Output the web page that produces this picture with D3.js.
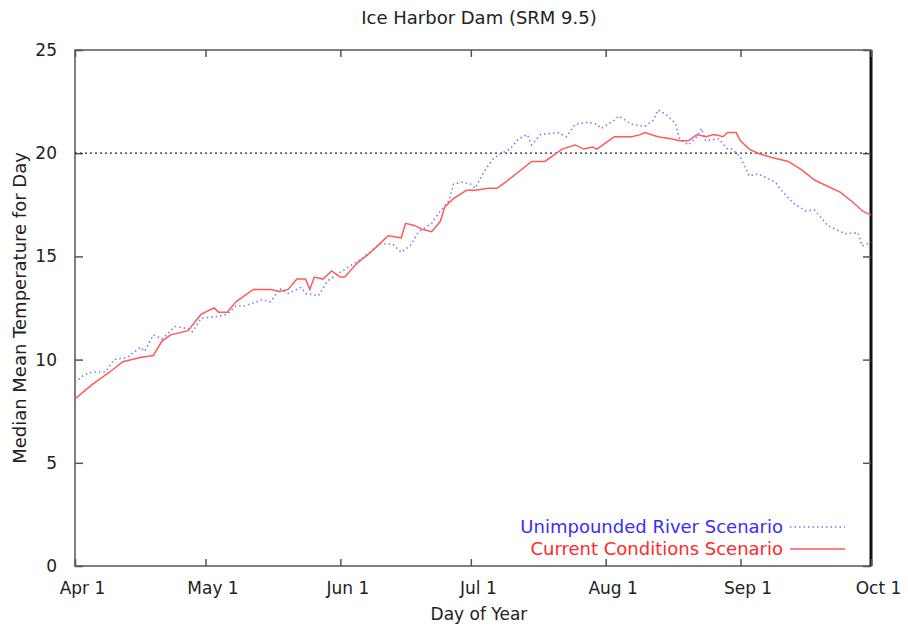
<!DOCTYPE html>
<html>
<head>
<meta charset="utf-8">
<script src="https://cdn.jsdelivr.net/npm/d3@7"></script>
<style>
  body { margin: 0; background: #fff; }
  text { font-family: "DejaVu Sans", Verdana, sans-serif; }
</style>
</head>
<body>
<svg id="chart" width="908" height="627"></svg>
<script>
// days after Apr 1 and median mean temperature (deg C)
const unimpoundedDays = [0, 2, 4, 7, 8, 9, 12, 15, 16, 18, 20, 23, 26, 27, 29, 33, 35, 37, 39, 43, 45, 47, 49, 52, 53, 56, 58, 60, 63, 66, 70, 73, 75, 77, 79, 82, 84, 86, 87, 89, 91, 92, 94, 96, 98, 100, 102, 104, 105, 107, 111, 113, 115, 118, 120, 121, 124, 125, 128, 131, 133, 134, 136, 138, 139, 141, 143, 144, 145, 148, 150, 151, 153, 155, 157, 161, 162, 165, 168, 170, 173, 175, 177, 180, 181, 183];
const unimpoundedTemps = [8.9, 9.25, 9.4, 9.4, 9.7, 10.0, 10.1, 10.6, 10.4, 11.2, 11.0, 11.6, 11.5, 11.35, 12.0, 12.1, 12.2, 12.6, 12.6, 12.9, 12.8, 13.45, 13.2, 13.5, 13.2, 13.1, 13.8, 14.1, 14.5, 14.9, 15.6, 15.6, 15.2, 15.5, 16.2, 16.6, 17.2, 17.7, 18.5, 18.6, 18.5, 18.3, 19.1, 19.7, 20.0, 20.2, 20.7, 20.9, 20.4, 20.9, 21.0, 20.8, 21.4, 21.5, 21.4, 21.2, 21.6, 21.8, 21.4, 21.3, 21.6, 22.1, 21.85, 21.45, 20.7, 20.4, 20.8, 21.2, 20.6, 20.7, 20.2, 20.2, 19.8, 18.9, 19.0, 18.6, 18.3, 17.6, 17.2, 17.25, 16.5, 16.3, 16.1, 16.15, 15.5, 15.7];

const currentDays = [0, 4, 8, 11, 15, 18, 20, 22, 26, 29, 32, 33, 35, 37, 39, 41, 45, 47, 49, 51, 53, 54, 55, 57, 59, 61, 62, 65, 68, 71, 72, 75, 76, 78, 80, 82, 84, 85, 87, 90, 92, 95, 97, 99, 102, 105, 108, 110, 112, 115, 117, 119, 120, 122, 124, 126, 128, 130, 131, 134, 137, 139, 141, 143, 145, 147, 149, 150, 152, 153, 155, 157, 160, 164, 167, 170, 173, 176, 179, 181, 183];
const currentTemps = [8.1, 8.8, 9.4, 9.9, 10.1, 10.2, 10.9, 11.2, 11.4, 12.2, 12.5, 12.3, 12.3, 12.8, 13.1, 13.4, 13.4, 13.3, 13.4, 13.9, 13.9, 13.4, 14.0, 13.9, 14.3, 14.0, 14.0, 14.7, 15.2, 15.8, 16.0, 15.9, 16.6, 16.5, 16.3, 16.2, 16.7, 17.4, 17.8, 18.2, 18.2, 18.3, 18.3, 18.6, 19.1, 19.6, 19.6, 19.9, 20.2, 20.4, 20.2, 20.3, 20.2, 20.5, 20.8, 20.8, 20.8, 20.9, 21.0, 20.8, 20.7, 20.6, 20.6, 20.9, 20.8, 20.9, 20.8, 21.0, 21.0, 20.6, 20.2, 20.0, 19.8, 19.6, 19.2, 18.7, 18.4, 18.1, 17.6, 17.2, 17.0];

const yTicks = [0, 5, 10, 15, 20, 25];
const threshold = 20;
const seriesNames = ['Unimpounded River Scenario', 'Current Conditions Scenario'];

const svg = d3.select('svg#chart');
const margin = {top: 50, right: 37, bottom: 61, left: 75};
const width = +svg.attr('width');
const height = +svg.attr('height');
const innerWidth = width - margin.left - margin.right;
const innerHeight = height - margin.top - margin.bottom;

const start = new Date(Date.UTC(2001, 3, 1));
const toDate = d => d3.utcDay.offset(start, d);

const xScale = d3.scaleUtc()
    .domain([start, new Date(Date.UTC(2001, 9, 1))])
    .range([0, innerWidth]);
const yScale = d3.scaleLinear()
    .domain([0, 25])
    .range([innerHeight, 0]);

const g = svg.append('g')
    .attr('transform', `translate(${margin.left}, ${margin.top})`);

//frame
g.append('rect')
    .attr('width', innerWidth).attr('height', innerHeight)
    .attr('fill', 'none').attr('stroke', '#555').attr('stroke-width', 1.5);
g.append('line')
    .attr('x1', innerWidth).attr('x2', innerWidth)
    .attr('y1', 0).attr('y2', innerHeight)
    .attr('stroke', '#111').attr('stroke-width', 3);

//axes, ticks pointing inward on all four sides
const monthTicks = d3.utcMonth.range(start, new Date(Date.UTC(2001, 9, 2)));
const xAxis = d3.axisBottom(xScale)
    .tickValues(monthTicks)
    .tickFormat(d3.utcFormat('%b %-d'))
    .tickSize(-7).tickPadding(16);
const xTop = d3.axisTop(xScale).tickValues(monthTicks).tickSize(-7);
const yAxis = d3.axisLeft(yScale).tickValues(yTicks).tickSize(-8).tickPadding(18);
const yRight = d3.axisRight(yScale).tickValues(yTicks).tickSize(-8);

const xg = g.append('g').attr('transform', `translate(0, ${innerHeight})`).call(xAxis);
xg.selectAll('text').attr('dx', 7);
g.append('g').call(xTop).selectAll('text').remove();
g.append('g').call(yAxis);
g.append('g').attr('transform', `translate(${innerWidth}, 0)`).call(yRight)
    .selectAll('text').remove();

g.selectAll('.domain').remove();
g.selectAll('.tick line').attr('stroke', '#555').attr('stroke-width', 1.5);
g.selectAll('.tick text').attr('fill', '#222').style('font-size', '17px')
    .style('font-family', '"DejaVu Sans", Verdana, sans-serif');

//20 degree reference line
g.append('line')
    .attr('x1', 0).attr('x2', innerWidth)
    .attr('y1', yScale(threshold)).attr('y2', yScale(threshold))
    .attr('stroke', '#222').attr('stroke-width', 1.3)
    .attr('stroke-dasharray', '2,3');

const line = d3.line()
    .x(d => xScale(toDate(d[0])))
    .y(d => yScale(d[1]));

const unimpounded = unimpoundedDays.map((d, i) => [d, unimpoundedTemps[i]]);
const current = currentDays.map((d, i) => [d, currentTemps[i]]);

g.append('path').datum(unimpounded)
    .attr('d', line)
    .attr('fill', 'none')
    .attr('stroke', '#7a7aff').attr('stroke-width', 1.6)
    .attr('stroke-dasharray', '1.5,3');

g.append('path').datum(current)
    .attr('d', line)
    .attr('fill', 'none')
    .attr('stroke', '#ff5a5a').attr('stroke-width', 1.5);

//legend
const legend = svg.append('g');
const legendItems = [
    {name: seriesNames[0], text: '#3a2cff', stroke: '#7a7aff', dash: '1.5,3', y: 527},
    {name: seriesNames[1], text: '#ff2a2a', stroke: '#ff5a5a', dash: null, y: 549}
];
legendItems.forEach(item => {
    legend.append('text')
        .attr('x', 783).attr('y', item.y)
        .attr('dy', '0.35em')
        .attr('text-anchor', 'end')
        .attr('fill', item.text)
        .style('font-size', '18px')
        .text(item.name);
    legend.append('line')
        .attr('x1', 790).attr('x2', 845)
        .attr('y1', item.y).attr('y2', item.y)
        .attr('stroke', item.stroke).attr('stroke-width', 1.5)
        .attr('stroke-dasharray', item.dash);
});

//titles
svg.append('text')
    .attr('x', 479).attr('y', 18).attr('dy', '0.35em')
    .attr('text-anchor', 'middle').attr('fill', '#222')
    .style('font-size', '18px')
    .text('Ice Harbor Dam (SRM 9.5)');

svg.append('text')
    .attr('x', 479).attr('y', 614).attr('dy', '0.35em')
    .attr('text-anchor', 'middle').attr('fill', '#222')
    .style('font-size', '17px')
    .text('Day of Year');

svg.append('text')
    .attr('transform', `translate(20, ${margin.top + innerHeight / 2}) rotate(-90)`)
    .attr('dy', '0.35em')
    .attr('text-anchor', 'middle').attr('fill', '#222')
    .style('font-size', '18px')
    .text('Median Mean Temperature for Day');
</script>
</body>
</html>
